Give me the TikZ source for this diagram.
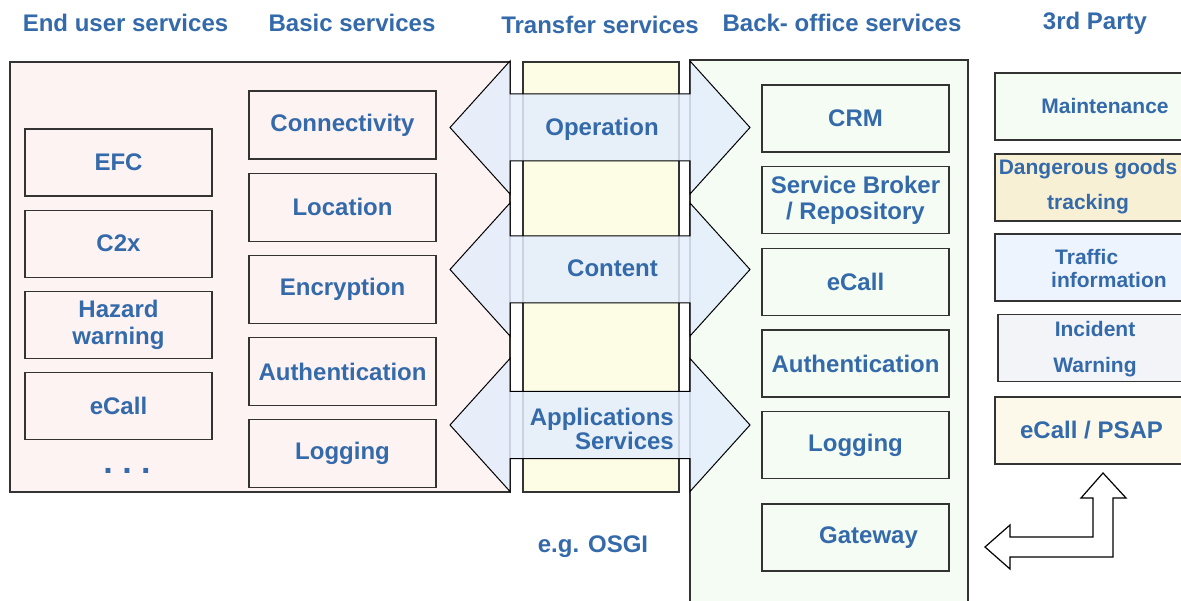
\documentclass[tikz,border=0pt]{standalone}
\usepackage{fontspec}
\setmainfont{Liberation Sans}
\usetikzlibrary{positioning}
\definecolor{svcBlue}{RGB}{52,106,170}
\definecolor{userPink}{RGB}{253,243,243}
\definecolor{officeGreen}{RGB}{244,252,244}
\definecolor{xferBlue}{RGB}{228,238,252}
\definecolor{xferYellow}{RGB}{253,253,230}
\definecolor{goodsGold}{RGB}{248,240,212}
\definecolor{trafficBlue}{RGB}{238,244,253}
\definecolor{incidentGrey}{RGB}{242,244,248}
\definecolor{psapCream}{RGB}{253,249,234}
\newcommand{\bigfont}{\bfseries\fontsize{24}{26.5}\selectfont}
\newcommand{\partyfont}{\bfseries\fontsize{21}{23}\selectfont}

\begin{document}
\begin{tikzpicture}[
  x=1pt, y=-1pt,
  node distance=13pt,
  hdr/.style={text=svcBlue,font=\bigfont,anchor=base,inner sep=0pt},
  box/.style={draw=black!80,line width=1.2pt,text=svcBlue,font=\bigfont,align=center,minimum width=187pt,minimum height=67pt,inner sep=0pt},
  tpbox/.style={box,minimum width=230pt},
  tplbl/.style={text=svcBlue,font=\partyfont,align=center,inner sep=0pt},
  area/.style={draw=black!80,line width=1.2pt},
  xarrow/.style={draw=black,line width=1pt,fill=xferBlue,fill opacity=0.85},
  xlbl/.style={text=svcBlue,font=\bigfont,inner sep=0pt}
]
\useasboundingbox (0,0) rectangle (1181,601);
\clip (0,0) rectangle (1181,601);

% headers
\node[hdr] (hUser) at (125.5,32) {End user services};
\node[hdr] (hBasic) at (352,32) {Basic services};
\node[hdr] (hXfer) at (600,34) {Transfer services};
\node[hdr] (hOffice) at (842,32) {Back- office services};
\node[hdr] (hParty) at (1095,30) {3rd Party};

% service areas
\draw[area,fill=userPink] (10,62) rectangle (510,492);
\draw[area,fill=officeGreen] (690,60) rectangle (968,620);
\draw[area,fill=xferYellow] (523,62) rectangle (679,492);

% transfer arrows
\foreach \cy in {127.5,269.5,425}
  \draw[xarrow] (450,\cy) -- (510,\cy-66.5) -- (510,\cy-33.5) -- (690,\cy-33.5)
    -- (690,\cy-66.5) -- (750,\cy) -- (690,\cy+66.5) -- (690,\cy+33.5)
    -- (510,\cy+33.5) -- (510,\cy+66.5) -- cycle;
\node[xlbl,anchor=base] (operation) at (602,136) {Operation};
\node[xlbl,anchor=base] (content) at (612.5,277) {Content};
\node[xlbl,align=right,anchor=east,font=\bfseries\fontsize{24}{24}\selectfont] (apps) at (674,428.5) {Applications\\Services};
\node[hdr] (osgi) at (593,552) {e.g. OSGI};

% end user services
\node[box] (efc) at (118.5,162.5) {EFC};
\node[box,below=of efc] (c2x) {C2x};
\node[box,below=of c2x] (hazard) {Hazard\\warning};
\node[box,below=of hazard] (ecallU) {eCall};
\node[hdr,font=\bfseries\fontsize{34}{36}\selectfont] (more) at (127,474) {.\hspace{9.5pt}.\hspace{9.5pt}.};

% basic services
\node[box,minimum height=68pt] (conn) at (342.5,125) {Connectivity};
\node[box,minimum height=68pt,below=of conn] (loc) {Location};
\node[box,minimum height=68pt,below=of loc] (encr) {Encryption};
\node[box,minimum height=68pt,below=of encr] (authB) {Authentication};
\node[box,minimum height=68pt,below=of authB] (logB) {Logging};

% back-office services
\node[box] (crm) at (855.5,118.5) {CRM};
\node[box,below=13.5pt of crm] (broker) {Service Broker\\/ Repository};
\node[box,below=13.5pt of broker] (ecallO) {eCall};
\node[box,below=13.5pt of ecallO] (authO) {Authentication};
\node[box,below=13.5pt of authO] (logO) {Logging};
\node[box,below=24pt of logO] (gateway) {\hspace*{26pt}Gateway};

% 3rd party
\node[tpbox,fill=officeGreen] (maint) at (1110,106.5) {};
\node[tpbox,fill=goodsGold] (goods) at (1110,187.5) {};
\node[tpbox,fill=trafficBlue] (traffic) at (1110,267.5) {};
\node[tpbox,fill=incidentGrey] (incident) at (1113,348) {};
\node[tpbox,fill=psapCream] (psap) at (1110,430.5) {};
\node[tplbl] (maintT) at (1105,105.5) {Maintenance};
\node[tplbl,font=\bfseries\fontsize{21}{35}\selectfont] (goodsT) at (1088,187) {Dangerous goods\\tracking};
\node[tplbl,align=left,anchor=west] (trafficT) at (1051,268) {\hspace*{4pt}Traffic\\information};
\node[tplbl,font=\bfseries\fontsize{21}{36}\selectfont] (incidentT) at (1095,349.5) {Incident\\Warning};
\node[xlbl] (psapT) at (1091.5,430) {eCall / PSAP};

% link between gateway and 3rd party
\draw[line width=1.2pt,fill=white] (985,547) -- (1010,525) -- (1010,537) -- (1093,537)
  -- (1093,498) -- (1081,498) -- (1103,473) -- (1126,498) -- (1113,498)
  -- (1113,557) -- (1010,557) -- (1010,569) -- cycle;
\end{tikzpicture}
\end{document}
